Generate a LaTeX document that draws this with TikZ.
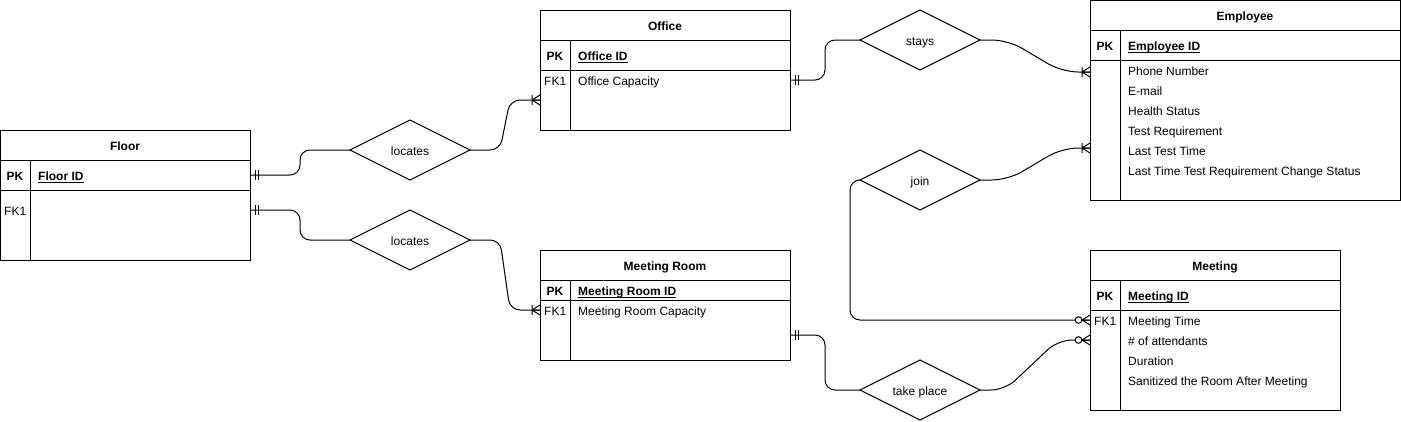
\documentclass[tikz,border=0pt]{standalone}
\usepackage{fontspec}
\setmainfont{Liberation Sans}
\usetikzlibrary{shapes.geometric}
\tikzset{
  txt/.style={font=\fontsize{12}{14}\selectfont, text height=11.6pt, text depth=0pt},
  ent/.style={draw, line width=1pt, anchor=north west, inner sep=0pt, outer sep=0pt},
  rel/.style={txt, draw, line width=1pt, diamond, aspect=2, minimum width=120pt, minimum height=60pt, inner sep=0pt, outer sep=0pt},
  hdr/.style={txt, font=\fontsize{12}{14}\selectfont\bfseries, inner sep=0pt},
  pk/.style={txt, font=\fontsize{12}{14}\selectfont\bfseries, inner sep=0pt},
  pkname/.style={txt, font=\fontsize{12}{14}\selectfont\bfseries, inner sep=0pt, anchor=west},
  attr/.style={txt, inner sep=0pt, anchor=west},
  sep/.style={line width=1pt},
  ul/.style={line width=0.7pt},
  conn/.style={line width=1pt, rounded corners=10pt},
  erMandOne/.pic={\draw[line width=1pt] (5,-5) -- (5,5) (8,-5) -- (8,5);},
  erOneMany/.pic={\draw[line width=1pt] (8,-5) -- (8,5) (8,0) -- (0,-5) (8,0) -- (0,5) (8,0) -- (0,0);},
  erZeroMany/.pic={\draw[line width=1pt] (8,0) -- (0,-5) (8,0) -- (0,5) (8,0) -- (0,0);
                   \draw[line width=1pt, fill=white] (11.5,0) circle (3.3);}
}
\begin{document}
\begin{tikzpicture}[x=1pt, y=-1pt]
\useasboundingbox (0,0) rectangle (1401,421);

% ---------- Floor ----------
\node[ent, minimum width=250pt, minimum height=130pt] (floor) at (0,130) {};
\draw[sep] (0,160) -- (250,160) (0,190) -- (250,190) (30,160) -- (30,260);
\node[hdr] (floorT) at (125,145) {Floor};
\node[pk] (floorPK) at (15,175) {PK};
\node[pkname] (floorID) at (38,175) {Floor ID};
\node[attr] (floorFK) at (4,210) {FK1};

% ---------- Office ----------
\node[ent, minimum width=250pt, minimum height=120pt] (office) at (540,10) {};
\draw[sep] (540,40) -- (790,40) (540,70) -- (790,70) (570,40) -- (570,130);
\node[hdr] (officeT) at (665,25) {Office};
\node[pk] (officePK) at (555,55) {PK};
\node[pkname] (officeID) at (578,55) {Office ID};
\node[attr] (officeFK) at (544,80) {FK1};
\node[attr] (officeCap) at (578,80) {Office Capacity};

% ---------- Meeting Room ----------
\node[ent, minimum width=250pt, minimum height=110pt] (mroom) at (540,250) {};
\draw[sep] (540,280) -- (790,280) (540,300) -- (790,300) (570,280) -- (570,360);
\node[hdr] (mroomT) at (665,265) {Meeting Room};
\node[pk] (mroomPK) at (555,290) {PK};
\node[pkname] (mroomID) at (578,290) {Meeting Room ID};
\node[attr] (mroomFK) at (544,310) {FK1};
\node[attr] (mroomCap) at (578,310) {Meeting Room Capacity};

% ---------- Employee ----------
\node[ent, minimum width=310pt, minimum height=199.5pt] (emp) at (1090,0.5) {};
\draw[sep] (1090,30) -- (1400,30) (1090,60) -- (1400,60) (1120,30) -- (1120,200);
\node[hdr] (empT) at (1245,15) {Employee};
\node[pk] (empPK) at (1105,45) {PK};
\node[pkname] (empID) at (1128,45) {Employee ID};
\node[attr] (empA1) at (1128,70) {Phone Number};
\node[attr] (empA2) at (1128,90) {E-mail};
\node[attr] (empA3) at (1128,110) {Health Status};
\node[attr] (empA4) at (1128,130) {Test Requirement};
\node[attr] (empA5) at (1128,150) {Last Test Time};
\node[attr] (empA6) at (1128,170) {Last Time Test Requirement Change Status};

% ---------- Meeting ----------
\node[ent, minimum width=250pt, minimum height=160pt] (meet) at (1090,250) {};
\draw[sep] (1090,280) -- (1340,280) (1090,310) -- (1340,310) (1120,280) -- (1120,410);
\node[hdr] (meetT) at (1215,265) {Meeting};
\node[pk] (meetPK) at (1105,295) {PK};
\node[pkname] (meetID) at (1128,295) {Meeting ID};
\node[attr] (meetFK) at (1094,320) {FK1};
\node[attr] (meetA1) at (1128,320) {Meeting Time};
\node[attr] (meetA2) at (1128,340) {\# of attendants};
\node[attr] (meetA3) at (1128,360) {Duration};
\node[attr] (meetA4) at (1128,380) {Sanitized the Room After Meeting};

% ---------- underlines of primary keys ----------
\foreach \k in {floorID,officeID,mroomID,empID,meetID}
  \draw[ul] ([yshift=-1.8pt]\k.base west) -- ([yshift=-1.8pt]\k.base east);

% ---------- Relationships ----------
\node[rel] (locT) at (410,150) {locates};
\node[rel] (locB) at (410,240) {locates};
\node[rel] (stays) at (920,40) {stays};
\node[rel] (join) at (920,180) {join};
\node[rel] (take) at (920,390) {take place};

% ---------- attachment points ----------
\coordinate (fA) at ([yshift=-45pt]floor.north east);
\coordinate (fB) at ([yshift=-80pt]floor.north east);
\coordinate (oA) at ([yshift=-90pt]office.north west);
\coordinate (oB) at ([yshift=-70pt]office.north east);
\coordinate (mrA) at ([yshift=-60pt]mroom.north west);
\coordinate (mrB) at ([yshift=-85pt]mroom.north east);
\coordinate (eA) at ([yshift=-71.5pt]emp.north west);
\coordinate (eB) at ([yshift=-147.5pt]emp.north west);
\coordinate (mA) at ([yshift=-70pt]meet.north west);
\coordinate (mB) at ([yshift=-90pt]meet.north west);

% ---------- connectors ----------
\draw[conn] (fA) -- ++(50,0) |- (locT.west);
\draw[conn] (fB) -- ++(50,0) |- (locB.west);
\draw[conn] (locT.east) -- ++(30,0) -- ([xshift=-30pt]oA) -- (oA);
\draw[conn] (locB.east) -- ++(30,0) -- ([xshift=-30pt]mrA) -- (mrA);
\draw[conn] (oB) -- ++(35,0) |- (stays.west);
\draw[conn, rounded corners=16pt] (stays.east) -- ++(28,0) -- ([xshift=-28pt]eA) -- (eA);
\draw[conn, rounded corners=16pt] (join.east) -- ++(28,0) -- ([xshift=-28pt]eB) -- (eB);
\draw[conn] (join.west) -- ++(-10,0) |- (mA);
\draw[conn] (mrB) -- ++(35,0) |- (take.west);
\draw[conn, rounded corners=14pt] (take.east) -- ++(25,0) -- ([xshift=-32pt]mB) -- (mB);

% ---------- cardinality markers ----------
\pic at (fA) {erMandOne};
\pic at (fB) {erMandOne};
\pic at (oB) {erMandOne};
\pic at (mrB) {erMandOne};
\pic[rotate=180] at (oA) {erOneMany};
\pic[rotate=180] at (mrA) {erOneMany};
\pic[rotate=180] at (eA) {erOneMany};
\pic[rotate=180] at (eB) {erOneMany};
\pic[rotate=180] at (mA) {erZeroMany};
\pic[rotate=180] at (mB) {erZeroMany};
\end{tikzpicture}
\end{document}
